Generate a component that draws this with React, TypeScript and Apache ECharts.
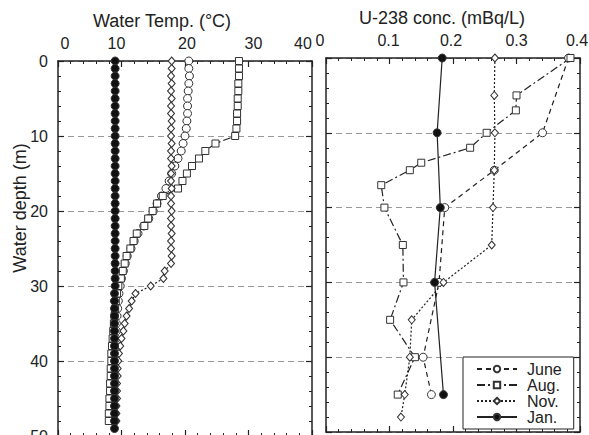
import React, { useEffect, useRef } from "react";
import * as echarts from "echarts";

// ---------- Left panel: water temperature profiles (°C) at 1 m steps ----------
const tempDepth = [
  0, 1, 2, 3, 4, 5, 6, 7, 8, 9, 10, 11, 12, 13, 14, 15, 16, 17, 18, 19, 20, 21, 22, 23, 24,
  25, 26, 27, 28, 29, 30, 31, 32, 33, 34, 35, 36, 37, 38, 39, 40, 41, 42, 43, 44, 45, 46, 47, 48, 49,
];
const juneTemp = [
  20.6, 20.6, 20.7, 20.6, 20.5, 20.4, 20.4, 20.4, 20.3, 20.2,
  20.0, 19.7, 19.4, 18.9, 18.4, 17.9, 17.5, 17.0, 16.3, 15.6,
  15.0, 14.3, 13.5, 12.6, 12.0, 11.5, 10.9, 10.6, 10.3, 10.0,
  9.8, 9.6, 9.5, 9.4, 9.3, 9.2, 9.2, 9.1, 9.1, 9.0,
  9.0, 9.0, 9.0, 9.0, 9.0, 9.0, 9.0, 9.0, 9.0,
];
const augTemp = [
  28.5, 28.5, 28.5, 28.4, 28.4, 28.3, 28.3, 28.2, 28.2, 28.1,
  27.9, 24.8, 23.2, 22.2, 21.1, 20.3, 19.6, 18.9, 16.5, 15.6,
  14.9, 14.2, 13.6, 12.4, 11.9, 11.4, 10.8, 10.5, 10.2, 9.9,
  9.5, 9.3, 9.1, 9.0, 8.9, 8.8, 8.7, 8.6, 8.5, 8.4,
  8.4, 8.3, 8.3, 8.2, 8.2, 8.1, 8.1, 8.0, 8.0,
];
const novTemp = [
  17.9, 17.9, 17.8, 17.9, 17.8, 17.9, 17.8, 17.8, 17.9, 17.8,
  17.8, 17.9, 17.8, 17.8, 17.9, 17.8, 17.8, 17.9, 17.8, 17.8,
  17.9, 17.8, 17.8, 17.9, 17.8, 17.8, 17.9, 17.8, 16.8, 16.6,
  14.6, 12.2, 11.6, 11.2, 10.8, 10.5, 10.3, 10.0, 9.8, 9.6,
  9.5, 9.4, 9.4, 9.3, 9.3, 9.3, 9.2, 9.2, 9.2,
];
const janTemp = [
  9.0, 9.0, 9.0, 9.0, 9.0, 9.0, 9.0, 9.0, 9.0, 9.0,
  9.0, 9.0, 9.0, 9.0, 9.0, 9.0, 9.0, 9.0, 9.0, 9.0,
  9.0, 9.0, 9.0, 9.0, 9.0, 9.0, 9.0, 9.0, 9.0, 9.0,
  9.0, 8.9, 8.9, 8.9, 8.9, 8.9, 8.9, 8.9, 8.9, 8.9,
  8.9, 8.9, 8.9, 8.9, 8.9, 8.9, 8.9, 8.9, 8.9, 8.9,
];

// ---------- Right panel: U-238 concentration (mBq/L) ----------
const juneUDepth = [0, 10, 15, 20, 30, 40, 45];
const juneU = [0.382, 0.341, 0.265, 0.187, 0.178, 0.153, 0.166];
const augUDepth = [0, 5, 7, 10, 12, 14, 15, 17, 20, 25, 30, 35, 40, 45];
const augU = [0.385, 0.3, 0.299, 0.253, 0.227, 0.15, 0.132, 0.087, 0.092, 0.121, 0.122, 0.101, 0.14, 0.113];
const novUDepth = [0, 5, 10, 15, 20, 25, 30, 35, 40, 45, 48];
const novU = [0.266, 0.265, 0.266, 0.265, 0.263, 0.261, 0.185, 0.135, 0.132, 0.124, 0.118];
const janUDepth = [0, 10, 20, 30, 45];
const janU = [0.183, 0.175, 0.18, 0.171, 0.185];

const monthNames = ["June", "Aug.", "Nov.", "Jan."];
const tempTicks = { min: 0, max: 40, interval: 10 };
const uTicks = { min: 0, max: 0.4, interval: 0.1 };
const depthTicks = { min: 0, max: 50, interval: 10 };

// horizontal nudges (px) of the top tick labels, as placed in the original figure
const tempLabelShift: Record<string, number> = { "0": 7, "10": -5, "20": 2, "30": 5, "40": -9 };
const uLabelShift: Record<string, number> = { "0": -6, "0.1": -1, "0.2": -2, "0.3": 0, "0.4": -3 };

const FONT = "'Liberation Sans', Arial, sans-serif";
const INK = "#222";

const pairs = (xs: number[], ys: number[]) => xs.map((x, i) => [x, ys[i]]);

const monthStyle: Record<string, any> = {
  "June": { symbol: "circle", size: 8, fill: "#fff", dash: [5, 4] },
  "Aug.": { symbol: "rect", size: 7, fill: "#fff", dash: [8, 3, 2, 3] },
  "Nov.": { symbol: "diamond", size: [7, 8], fill: "#fff", dash: [2, 2] },
  "Jan.": { symbol: "circle", size: 8, fill: "#111", dash: "solid" },
};

function makeSeries(name: string, data: number[][], xi: number, yi: number) {
  const s = monthStyle[name];
  return {
    type: "line",
    name,
    xAxisIndex: xi,
    yAxisIndex: yi,
    data,
    clip: false,
    showSymbol: true,
    symbol: s.symbol,
    symbolSize: s.size,
    lineStyle: { color: INK, width: 1.2, type: s.dash },
    itemStyle: { color: s.fill, borderColor: "#333", borderWidth: 1 },
    emphasis: { disabled: true },
  };
}

function shiftedLabels(shift: Record<string, number>) {
  const rich: Record<string, any> = {};
  const keyOf = (v: string) => "k" + v.replace(".", "_");
  Object.keys(shift).forEach((v) => {
    const s = shift[v];
    rich[keyOf(v)] = {
      fontSize: 16,
      color: INK,
      fontFamily: FONT,
      padding: s >= 0 ? [0, 0, 0, 2 * s] : [0, -2 * s, 0, 0],
    };
  });
  return {
    rich,
    formatter: (value: number) => {
      const v = String(value);
      return shift[v] !== undefined ? `{${keyOf(v)}|${v}}` : v;
    },
  };
}

function xAxisCfg(grid: number, pos: string, t: any, withLabels: boolean, name?: string, gap?: number, namePad?: number, shift?: Record<string, number>) {
  const extra = shift ? shiftedLabels(shift) : {};
  return {
    gridIndex: grid,
    type: "value",
    position: pos,
    min: t.min,
    max: t.max,
    interval: t.interval,
    name: name || "",
    nameLocation: "middle",
    nameGap: gap || 0,
    nameTextStyle: { fontSize: 18, color: INK, fontFamily: FONT, padding: [0, namePad || 0, 0, 0] },
    axisLine: { show: true, onZero: false, lineStyle: { color: INK, width: 1.5 } },
    axisTick: { show: true, inside: true, length: 6, lineStyle: { color: INK, width: 1.2 } },
    minorTick: { show: true, splitNumber: 5, length: 3, lineStyle: { color: INK, width: 1 } },
    axisLabel: { show: withLabels, fontSize: 16, color: INK, fontFamily: FONT, margin: 10, ...extra },
    splitLine: { show: false },
  };
}

function yAxisCfg(grid: number, pos: string, withLabels: boolean, grid_lines: boolean) {
  return {
    gridIndex: grid,
    type: "value",
    position: pos,
    inverse: true,
    min: depthTicks.min,
    max: depthTicks.max,
    interval: depthTicks.interval,
    axisLine: { show: true, onZero: false, lineStyle: { color: INK, width: 1.5 } },
    axisTick: { show: true, inside: true, length: 6, lineStyle: { color: INK, width: 1.2 } },
    minorTick: { show: true, splitNumber: 5, length: 3, lineStyle: { color: INK, width: 1 } },
    axisLabel: { show: withLabels, fontSize: 16, color: INK, fontFamily: FONT, margin: 10 },
    splitLine: { show: grid_lines, lineStyle: { color: "#999", width: 1, type: [6, 4] } },
  };
}

export default function App() {
  const ref = useRef<HTMLDivElement>(null);
  useEffect(() => {
    document.body.style.margin = "0";
    const chart = echarts.init(ref.current!, null, { renderer: "svg" });
    chart.setOption({
      animation: false,
      backgroundColor: "#fff",
      textStyle: { fontFamily: FONT },
      grid: [
        { left: 58, top: 61, width: 254, height: 375, outerBoundsMode: "none", containLabel: false },
        { left: 326, top: 58, width: 254, height: 374, outerBoundsMode: "none", containLabel: false },
      ],
      xAxis: [
        xAxisCfg(0, "top", tempTicks, true, "Water Temp. (°C)", 31, 46, tempLabelShift),
        xAxisCfg(0, "bottom", tempTicks, false),
        xAxisCfg(1, "top", uTicks, true, "U-238 conc. (mBq/L)", 28, 22, uLabelShift),
        xAxisCfg(1, "bottom", uTicks, false),
      ],
      yAxis: [
        yAxisCfg(0, "left", true, true),
        yAxisCfg(0, "right", false, false),
        yAxisCfg(1, "left", false, true),
        yAxisCfg(1, "right", false, false),
      ],
      legend: {
        data: monthNames,
        orient: "vertical",
        left: 463,
        top: 357,
        itemWidth: 40,
        itemHeight: 8,
        itemGap: 0,
        padding: [4, 12, 4, 13],
        borderColor: INK,
        borderWidth: 1,
        backgroundColor: "#fff",
        selectedMode: false,
        textStyle: { fontSize: 16, color: INK, fontFamily: FONT, padding: [0, 0, 0, 5] },
      },
      graphic: [
        {
          type: "text",
          x: 20,
          y: 208,
          rotation: Math.PI / 2,
          style: {
            text: "Water depth (m)",
            fontSize: 18,
            fontFamily: FONT,
            fill: INK,
            align: "center",
            verticalAlign: "middle",
          },
        },
      ],
      series: [
        makeSeries("June", pairs(juneTemp, tempDepth), 0, 0),
        makeSeries("Aug.", pairs(augTemp, tempDepth), 0, 0),
        makeSeries("Nov.", pairs(novTemp, tempDepth), 0, 0),
        makeSeries("Jan.", pairs(janTemp, tempDepth), 0, 0),
        makeSeries("June", pairs(juneU, juneUDepth), 2, 2),
        makeSeries("Aug.", pairs(augU, augUDepth), 2, 2),
        makeSeries("Nov.", pairs(novU, novUDepth), 2, 2),
        makeSeries("Jan.", pairs(janU, janUDepth), 2, 2),
      ],
    });
    return () => chart.dispose();
  }, []);
  return <div ref={ref} style={{ width: 589, height: 435 }} />;
}
